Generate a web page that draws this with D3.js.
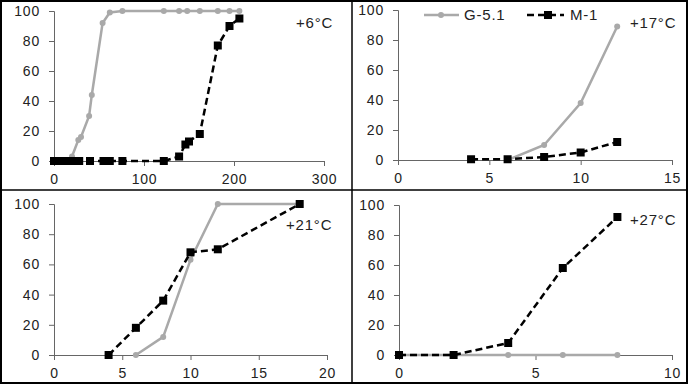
<!DOCTYPE html>
<html>
<head>
<meta charset="utf-8">
<style>
body { margin:0; background:#fff; }
.tick text { font-family: "Liberation Sans", Arial; font-size:14px; letter-spacing:0.8px; fill:#222; }
.lbl { font-family: "Liberation Sans", Arial; font-size:15px; letter-spacing:0.8px; fill:#222; }
.domain, .tick line { stroke:#666; }
</style>
<script src="https://d3js.org/d3.v7.min.js"></script>
</head>
<body>
<script>
// series names
var seriesNames = ["G-5.1", "M-1"];

// +6°C
var p1_gx = [0, 7, 14, 20, 27, 30, 39, 42, 54, 62, 76, 122, 139, 148, 162, 182, 195, 206];
var p1_gy = [0, 0, 0, 3, 14, 16, 30, 44, 92, 99, 100, 100, 100, 100, 100, 100, 100, 100];
var p1_mx = [0, 7, 14, 21, 28, 40, 55, 62, 76, 122, 139, 146, 150, 162, 182, 195, 206];
var p1_my = [0, 0, 0, 0, 0, 0, 0, 0, 0, 0, 3, 11, 13, 18, 77, 90, 95];

// +17°C
var p2_gx = [6, 8, 10, 12];
var p2_gy = [0, 10, 38, 89];
var p2_mx = [4, 6, 8, 10, 12];
var p2_my = [0.5, 0.5, 2, 5, 12];

// +21°C
var p3_gx = [6, 8, 10, 12, 18];
var p3_gy = [0, 12, 63, 100, 100];
var p3_mx = [4, 6, 8, 10, 12, 18];
var p3_my = [0, 18, 36, 68, 70, 100];

// +27°C
var p4_gx = [0, 2, 4, 6, 8];
var p4_gy = [0, 0, 0, 0, 0];
var p4_mx = [0, 2, 4, 6, 8];
var p4_my = [0, 0, 8, 58, 92];

var yTicks = [0, 20, 40, 60, 80, 100];
var panelLabels = ["+6\u00b0C", "+17\u00b0C", "+21\u00b0C", "+27\u00b0C"];

var width = 689, height = 387;
var gray = "#a9a9a9";

var svg = d3.select("body").append("svg")
    .attr("width", width).attr("height", height);

function zip(xs, ys) { return xs.map(function(x, i){ return [x, ys[i]]; }); }

var panels = [
  { x0:54,  x1:324, y0:161, y1:11,  xmax:300, xt:[0,100,200,300], g:zip(p1_gx,p1_gy), m:zip(p1_mx,p1_my), lx:296, ly:28 },
  { x0:398, x1:672, y0:160, y1:10,  xmax:15,  xt:[0,5,10,15],     g:zip(p2_gx,p2_gy), m:zip(p2_mx,p2_my), lx:630, ly:28 },
  { x0:54,  x1:327, y0:355, y1:204, xmax:20,  xt:[0,5,10,15,20],  g:zip(p3_gx,p3_gy), m:zip(p3_mx,p3_my), lx:286, ly:230 },
  { x0:399, x1:672, y0:355, y1:205, xmax:10,  xt:[0,5,10],        g:zip(p4_gx,p4_gy), m:zip(p4_mx,p4_my), lx:630, ly:225 }
];

panels.forEach(function(p, k) {
  var x = d3.scaleLinear().domain([0, p.xmax]).range([p.x0, p.x1]);
  var y = d3.scaleLinear().domain([0, 100]).range([p.y0, p.y1]);

  svg.append("g").attr("transform", "translate(" + p.x0 + ",0)")
    .call(d3.axisLeft(y).tickValues(yTicks).tickSizeOuter(0).tickSize(5).tickPadding(9));
  svg.append("g").attr("transform", "translate(0," + p.y0 + ")")
    .call(d3.axisBottom(x).tickValues(p.xt).tickSizeOuter(0).tickSize(5).tickPadding(8));

  var line = d3.line().x(function(d){ return x(d[0]); }).y(function(d){ return y(d[1]); });

  svg.append("path").datum(p.g).attr("d", line)
    .attr("fill", "none").attr("stroke", gray).attr("stroke-width", 2.5);
  svg.selectAll(null).data(p.g).enter().append("circle")
    .attr("cx", function(d){ return x(d[0]); }).attr("cy", function(d){ return y(d[1]); })
    .attr("r", 3).attr("fill", gray);

  svg.append("path").datum(p.m).attr("d", line)
    .attr("fill", "none").attr("stroke", "#000").attr("stroke-width", 2.5)
    .attr("stroke-dasharray", "7,4");
  svg.selectAll(null).data(p.m).enter().append("rect")
    .attr("x", function(d){ return x(d[0]) - 4; }).attr("y", function(d){ return y(d[1]) - 4; })
    .attr("width", 8).attr("height", 8).attr("fill", "#000");

  svg.append("text").attr("class", "lbl").attr("x", p.lx).attr("y", p.ly).text(panelLabels[k]);
});

// legend
var leg = svg.append("g");
leg.append("line").attr("x1", 424).attr("x2", 459).attr("y1", 15).attr("y2", 15)
  .attr("stroke", gray).attr("stroke-width", 2.5);
leg.append("circle").attr("cx", 441).attr("cy", 15).attr("r", 3).attr("fill", gray);
leg.append("text").attr("class", "lbl").attr("x", 464).attr("y", 20).text(seriesNames[0]);
leg.append("line").attr("x1", 527).attr("x2", 564).attr("y1", 15).attr("y2", 15)
  .attr("stroke", "#000").attr("stroke-width", 2.5).attr("stroke-dasharray", "7,4");
leg.append("rect").attr("x", 544).attr("y", 11).attr("width", 8).attr("height", 8).attr("fill", "#000");
leg.append("text").attr("class", "lbl").attr("x", 570).attr("y", 20).text(seriesNames[1]);

// frame and dividers
svg.append("rect").attr("x", 1).attr("y", 1).attr("width", 686).attr("height", 382)
  .attr("fill", "none").attr("stroke", "#000").attr("stroke-width", 2);
svg.append("line").attr("x1", 352).attr("x2", 352).attr("y1", 0).attr("y2", 384)
  .attr("stroke", "#000").attr("stroke-width", 1.5);
svg.append("line").attr("x1", 0).attr("x2", 688).attr("y1", 190).attr("y2", 190)
  .attr("stroke", "#000").attr("stroke-width", 1.5);
</script>
</body>
</html>
